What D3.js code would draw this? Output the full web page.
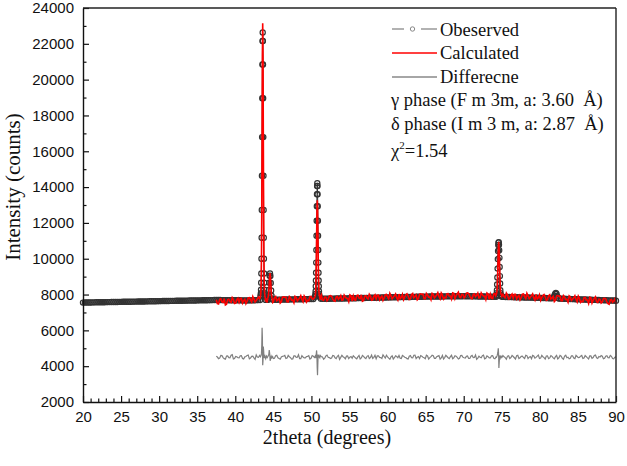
<!DOCTYPE html>
<html><head><meta charset="utf-8">
<script src="https://cdn.jsdelivr.net/npm/d3@7"></script>
<style>
html,body{margin:0;padding:0;background:#fff;}
svg{display:block;}
</style></head>
<body>
<script>
// ---------- DATA ----------
const xTicks = [20,25,30,35,40,45,50,55,60,65,70,75,80,85,90];
const yTicks = [2000,4000,6000,8000,10000,12000,14000,16000,18000,20000,22000,24000];

// Observed: background grid (start 20, step 0.25)
const obsStart = 20, obsStep = 0.25;
const obsBase = [
 7550,7553,7555,7557, 7558,7561,7564,7566, 7567,7569,7570,7573, 7576,7577,7578,7581, 7584,7585,7587,7589,
 7591,7594,7596,7597, 7599,7601,7603,7605, 7607,7610,7612,7613, 7615,7618,7620,7622, 7624,7625,7627,7630,
 7632,7634,7636,7638, 7640,7642,7644,7646, 7648,7650,7652,7655, 7657,7658,7660,7663, 7665,7666,7668,7671,
 7673,7675,7677,7679, 7681,7684,7686,7688, 7690,7693,7696,7694, 7692,7690,7688,7687, 7686,7684,7682,7681,
 7680,7679,7678,7675, 7672,7672,7672,7674, 7676,7680,7684,7687, 7690,7692,7695,7697, 7700,7702,7705,7707,
 7710,7711,7713,7716, 7718,7720,7722,7724, 7726,7729,7731,7733, 7735,7737,7739,7741, 7743,7745,7746,7748,
 7750,7752,7754,7756, 7758,7760,7762,7764, 7766,7768,7770,7772, 7774,7776,7778,7780, 7782,7784,7786,7788,
 7790,7792,7795,7797, 7800,7802,7805,7807, 7810,7812,7815,7817, 7820,7822,7825,7827, 7830,7832,7835,7837,
 7840,7842,7845,7847, 7849,7852,7854,7856, 7858,7861,7863,7865, 7867,7870,7872,7874, 7876,7879,7881,7883,
 7885,7886,7888,7889, 7890,7892,7893,7894, 7895,7897,7898,7899, 7900,7902,7903,7904, 7905,7907,7908,7909,
 7910,7908,7906,7904, 7902,7900,7898,7896, 7894,7892,7890,7888, 7886,7884,7882,7880, 7878,7876,7874,7872,
 7870,7868,7865,7862, 7859,7857,7854,7851, 7848,7846,7843,7840, 7837,7835,7832,7829, 7826,7824,7821,7818,
 7815,7811,7808,7804, 7799,7795,7792,7787, 7783,7779,7776,7771, 7767,7763,7760,7755, 7751,7747,7744,7739,
 7735,7731,7728,7724, 7720,7716,7713,7709, 7705,7701,7698,7694, 7690,7686,7683,7679, 7675,7671,7668,7664,
 7660];
// Observed: peak regions
const obsP1X = [43.32,43.34,43.36,43.38,43.40,43.42,43.44,43.46,43.48,43.50,43.52,43.54,43.56,43.58,43.60,43.62,43.64,43.66,43.68,43.70,43.72,43.74,43.76,43.78,43.80,43.82,43.84,43.86,43.88];
const obsP1Y = [7890,7960,8070,8270,8662,9182,9999,11173,12718,14635,16790,18960,20847,22154,22630,22154,20847,18960,16790,14635,12718,11173,9999,9182,8662,8270,8070,7960,7890];
const obsP2X = [44.26,44.31,44.36,44.41,44.46,44.51,44.56,44.61,44.66,44.71,44.76,44.81,44.86];
const obsP2Y = [7740,7790,7930,8250,8660,9050,9180,9040,8650,8230,7930,7780,7730];
const obsP3X = [50.49,50.51,50.53,50.55,50.57,50.59,50.61,50.63,50.65,50.67,50.69,50.71,50.73,50.75,50.77,50.79,50.81,50.83,50.85,50.87,50.89,50.91,50.93,50.95,50.97,50.99,51.01,51.03,51.05];
const obsP3Y = [7880,7940,8030,8180,8463,8782,9217,9785,10490,11280,12120,12930,13600,14060,14220,14060,13600,12930,12120,11280,10490,9785,9217,8782,8463,8180,8030,7940,7880];
const obsP4X = [74.27,74.30,74.33,74.36,74.39,74.42,74.45,74.48,74.51,74.54,74.57,74.60,74.63,74.66,74.69,74.72,74.75,74.78,74.81,74.84,74.87,74.90];
const obsP4Y = [7930,7980,8080,8240,8560,8950,9450,9980,10430,10760,10900,10920,10780,10480,10050,9540,9030,8620,8240,8080,7980,7930];
const obsP5X = [81.7,81.8,81.9,82.0,82.1,82.2,82.3,82.4];
const obsP5Y = [7800,7840,7930,8040,8090,8030,7900,7810];

// Calculated: grid values (start 37.5, step 0.3) and in-between values (start 37.65, step 0.3)
const calcStart = 37.5, calcMidStart = 37.65, calcStep = 0.3;
const calcBase = [
 7704,7470,7764,7562,7424,7718,7612,7826,7496,7710,
 7572,7784,7660,7488,7812,7688,7884,7584,7764,7640,
 7852,7663,7538,7814,7737,7596,7888,7715,7526,7850,
 7836,7599,7889,7684,7543,7833,7724,7935,7601,7812,
 7672,7882,7757,7583,7906,7780,7975,7673,7852,7726,
 7937,7748,7623,7898,7821,7680,7971,7798,7609,7932,
 7919,7682,7973,7768,7627,7918,7809,8020,7687,7898,
 7757,7968,7843,7670,7993,7868,8063,7762,7941,7816,
 8027,7838,7713,7988,7911,7770,8061,7888,7699,8022,
 8009,7771,8061,7855,7713,8003,7893,8103,7769,7979,
 7837,8047,7920,7746,8068,7941,8135,7833,8010,7884,
 8090,7896,7765,8035,7952,7806,8091,7913,7718,8036,
 8017,7775,8061,7851,7705,7991,7877,8083,7745,7951,
 7804,8009,7878,7699,8016,7885,8074,7767,7940,7809,
 8012,7814,7680,7946,7860,7710,7992,7810,7612,7926,
 7904,7657,7938,7723,7572,7853,7734,7935,7592,7793,
 7624,7825,7690,7506,7819,7684,7868,7557,7726,7590,
 7792,7593,7458,7723,7636,7485];
const calcMid = [
 7490,7736,7592,7778,7464,7740,7566,7722,7518,7794,
 7780,7524,7738,7622,7826,7580,7744,7668,7862,7516,
 7590,7833,7686,7870,7553,7826,7650,7803,7596,7870,
 7852,7595,7807,7690,7893,7645,7808,7731,7923,7576,
 7650,7892,7745,7927,7610,7882,7705,7857,7650,7922,
 7905,7648,7861,7744,7947,7700,7863,7786,7979,7632,
 7705,7948,7801,7984,7667,7940,7763,7916,7709,7982,
 7965,7708,7921,7804,8007,7760,7923,7846,8039,7692,
 7765,8008,7861,8044,7727,8000,7823,7976,7769,8042,
 8025,7767,7979,7861,8063,7815,7977,7899,8091,7743,
 7815,8057,7908,8090,7772,8043,7865,8017,7808,8080,
 8058,7796,8003,7881,8078,7826,7983,7901,8088,7736,
 7803,8041,7889,8067,7745,8013,7831,7979,7767,8035,
 8012,7749,7956,7833,8030,7777,7934,7851,8038,7685,
 7750,7984,7828,8002,7676,7940,7754,7898,7682,7946,
 7920,7653,7856,7729,7922,7665,7818,7731,7914,7557,
 7602,7835,7678,7850,7523,7786,7598,7741,7524,7786,
 7760,7493,7696,7569,7762];
const calcP1X = [43.20,43.28,43.32,43.36,43.40,43.44,43.48,43.52,43.56,43.60,43.64,43.68,43.72,43.76,43.80,43.84,43.88,43.92,44.00,44.08,44.16,44.26,44.31,44.36,44.41,44.46,44.51,44.56,44.61,44.66,44.71,44.76,44.81,44.86,44.92];
const calcP1Y = [7760,7820,7940,8125,8665,10050,12870,17090,21300,23150,21300,17090,12870,10050,8665,8125,7940,7860,7600,7780,7550,7795,7842,7972,8241,8641,9033,9200,9033,8641,8241,7972,7842,7740,7560];
const calcP2X = [50.40,50.45,50.49,50.53,50.57,50.61,50.65,50.69,50.73,50.77,50.81,50.85,50.89,50.93,50.97,51.01,51.05,51.09,51.15,51.20];
const calcP2Y = [7830,7871,7914,8040,8346,8991,10078,11472,12740,13270,12740,11472,10078,8991,8346,8040,7914,7871,7700,7850];
const calcP3X = [74.20,74.25,74.30,74.35,74.40,74.45,74.50,74.55,74.60,74.65,74.70,74.75,74.80,74.85,74.90,74.95,75.00];
const calcP3Y = [7930,7981,8020,8125,8396,8967,9808,10620,10950,10620,9808,8967,8396,8125,8020,7981,7900];

// Difference: grid values (start 37.5, step 0.3) and in-between values (start 37.65)
const diffBase = [
 4550,4420,4600,4480,4390,4570,4470,4640,4430,4530,
 4460,4590,4400,4540,4620,4450,4560,4380,4510,4600,
 4480,4560,4410,4620,4500,4430,4580,4470,4390,4550,
 4600,4450,4530,4400,4570,4490,4640,4420,4510,4460,
 4550,4400,4590,4480,4620,4440,4530,4390,4570,4500,
 4430,4600,4470,4550,4380,4610,4490,4560,4420,4540,
 4580,4450,4520,4400,4600,4470,4550,4430,4620,4490,
 4410,4570,4480,4630,4450,4520,4390,4580,4470,4540,
 4600,4430,4560,4480,4400,4590,4460,4620,4500,4420,
 4550,4470,4610,4400,4530,4580,4440,4560,4390,4600,
 4480,4540,4420,4610,4470,4550,4400,4590,4500,4450,
 4570,4430,4600,4490,4380,4560,4470,4620,4440,4530,
 4460,4590,4410,4550,4600,4440,4520,4390,4580,4480,
 4540,4400,4610,4470,4560,4430,4590,4500,4420,4570,
 4490,4620,4450,4530,4400,4580,4460,4550,4410,4600,
 4470,4560,4390,4610,4500,4440,4580,4420,4540,4490,
 4600,4450,4530,4400,4570,4480,4620,4430,4510,4560,
 4440,4580,4470,4550,4410,4520];
const diffMid = [
 4510,4450,4590,4420,4560,4480,4610,4400,4540,4470,
 4580,4430,4520,4600,4410,4550,4460,4630,4490,4420,
 4470,4560,4400,4590,4500,4440,4610,4430,4520,4570,
 4430,4600,4480,4410,4570,4500,4420,4590,4460,4540,
 4590,4440,4550,4470,4400,4600,4510,4450,4620,4480,
 4460,4580,4420,4610,4490,4530,4410,4570,4500,4440,
 4520,4410,4600,4460,4550,4420,4590,4480,4430,4610,
 4570,4490,4430,4540,4610,4450,4520,4400,4580,4470,
 4440,4600,4500,4420,4560,4470,4610,4430,4540,4590,
 4500,4420,4570,4480,4610,4440,4530,4590,4460,4400,
 4610,4470,4530,4420,4580,4490,4440,4600,4470,4550,
 4430,4560,4480,4620,4450,4500,4590,4410,4570,4460,
 4580,4440,4520,4460,4410,4590,4480,4560,4430,4600,
 4470,4590,4430,4550,4480,4610,4420,4540,4600,4450,
 4560,4430,4600,4480,4570,4420,4590,4460,4530,4410,
 4600,4440,4560,4470,4410,4580,4450,4600,4480,4560,
 4430,4590,4460,4570,4440,4600,4470,4540,4590,4420,
 4560,4480,4600,4430,4500];
const diffP1X = [43.30,43.38,43.44,43.48,43.52,43.56,43.60,43.64,43.68,43.72,43.76,43.82,43.90,44.00,44.10,44.20,44.30,44.40,44.46,44.52,44.58,44.64,44.72,44.80,44.90];
const diffP1Y = [4530,4600,4700,5200,6150,5600,4050,4300,5100,4900,4600,4450,4560,4420,4560,4480,4550,4650,4900,4700,4300,4420,4560,4470,4540];
const diffP2X = [50.50,50.58,50.64,50.68,50.72,50.76,50.80,50.84,50.88,50.94,51.00,51.10];
const diffP2Y = [4560,4450,4700,4880,4600,3900,3500,4100,4650,4480,4550,4470];
const diffP3X = [74.30,74.40,74.48,74.54,74.58,74.62,74.66,74.72,74.80,74.90,75.00];
const diffP3Y = [4500,4600,4750,5000,4700,3900,4200,4600,4450,4560,4480];

const legendLabels = ["Obeserved","Calculated","Differecne"];
const infoLines = ["γ phase (F m 3m, a: 3.60  Å)","δ phase (I m 3 m, a: 2.87  Å)"];
const chiLabel = {sym:"χ", sup:"2", val:"=1.54"};

// ---------- BUILD SERIES ----------
function build(grids, step, wins){
  const pts = [];
  grids.forEach(([start, base]) => base.forEach((v,i)=>{
    const xv = +(start + i*step).toFixed(4);
    const inside = wins.some(([xs]) => xv >= xs[0]-1e-6 && xv <= xs[xs.length-1]+1e-6);
    if(!inside) pts.push([xv, v]);
  }));
  wins.forEach(([xs,ys]) => xs.forEach((xv,i)=>pts.push([xv, ys[i]])));
  pts.sort((a,b)=>a[0]-b[0]);
  return pts;
}
const observed = build([[obsStart, obsBase]], obsStep, [[obsP1X,obsP1Y],[obsP2X,obsP2Y],[obsP3X,obsP3Y],[obsP4X,obsP4Y],[obsP5X,obsP5Y]]);
const calculated = build([[calcStart, calcBase],[calcMidStart, calcMid]], calcStep, [[calcP1X,calcP1Y],[calcP2X,calcP2Y],[calcP3X,calcP3Y]]);
const difference = build([[calcStart, diffBase],[calcMidStart, diffMid]], calcStep, [[diffP1X,diffP1Y],[diffP2X,diffP2Y],[diffP3X,diffP3Y]]);

// ---------- DRAW ----------
const W = 627, H = 466;
const L = 83, R = 616, T = 8, B = 402;
const svg = d3.select("body").append("svg").attr("width", W).attr("height", H);
const x = d3.scaleLinear().domain([20,90]).range([L,R]);
const y = d3.scaleLinear().domain([2000,24000]).range([B,T]);

const line = d3.line().x(d=>x(d[0])).y(d=>y(d[1]));

// Observed line + circles
svg.append("path").datum(observed).attr("d", line)
  .attr("fill","none").attr("stroke","#333").attr("stroke-width",1);
svg.append("g").selectAll("circle").data(observed).join("circle")
  .attr("cx", d=>x(d[0])).attr("cy", d=>y(d[1])).attr("r", 2.6)
  .attr("fill","none").attr("stroke","#333").attr("stroke-width",1.2);

// Calculated
svg.append("path").datum(calculated).attr("d", line)
  .attr("fill","none").attr("stroke","#ff0000").attr("stroke-width",1.6);

// Difference
svg.append("path").datum(difference).attr("d", line)
  .attr("fill","none").attr("stroke","#808080").attr("stroke-width",1.2);

// Axes
const fontSans = "'Liberation Sans', Arial, sans-serif";
const fontSerif = "'Liberation Serif', 'Times New Roman', serif";

const xMinor = d3.range(20,91,1).filter(v=>!xTicks.includes(v));
const yMinor = d3.range(3000,24000,2000);

const gx = svg.append("g").attr("transform",`translate(0,${B})`)
  .call(d3.axisBottom(x).tickValues(xTicks).tickSizeInner(-6).tickSizeOuter(0).tickPadding(9).tickFormat(d3.format("d")));
const gxm = svg.append("g").attr("transform",`translate(0,${B})`)
  .call(d3.axisBottom(x).tickValues(xMinor).tickSizeInner(-3.5).tickSizeOuter(0).tickFormat(""));
gxm.select(".domain").remove();

const gy = svg.append("g").attr("transform",`translate(${L},0)`)
  .call(d3.axisLeft(y).tickValues(yTicks).tickSizeInner(-6).tickSizeOuter(0).tickPadding(9).tickFormat(d3.format("d")));
const gym = svg.append("g").attr("transform",`translate(${L},0)`)
  .call(d3.axisLeft(y).tickValues(yMinor).tickSizeInner(-3.5).tickSizeOuter(0).tickFormat(""));
gym.select(".domain").remove();

[gx,gy,gxm,gym].forEach(g=>{
  g.selectAll("line").attr("stroke","#111").attr("stroke-width",1.2);
  g.selectAll(".domain").attr("stroke","#111").attr("stroke-width",1.4);
  g.selectAll("text").attr("font-family",fontSans).attr("font-size",15).attr("fill","#111");
});

// top & right frame
svg.append("line").attr("x1",L).attr("x2",R).attr("y1",T).attr("y2",T).attr("stroke","#222").attr("stroke-width",1.4);
svg.append("line").attr("x1",R).attr("x2",R).attr("y1",T).attr("y2",B).attr("stroke","#222").attr("stroke-width",1.4);

// Axis titles
svg.append("text").attr("x",327).attr("y",444).attr("text-anchor","middle")
  .attr("font-family",fontSerif).attr("font-size",20).attr("fill","#111").text("2theta (degrees)");
svg.append("text").attr("transform","translate(20,187) rotate(-90)").attr("text-anchor","middle")
  .attr("font-family",fontSerif).attr("font-size",21).attr("fill","#111").text("Intensity (counts)");

// Legend
const lg = svg.append("g");
const rowsY = [29,53,77];
const txtBase = [36,59,83];
lg.append("line").attr("x1",392).attr("x2",404).attr("y1",rowsY[0]).attr("y2",rowsY[0]).attr("stroke","#888").attr("stroke-width",1.3);
lg.append("line").attr("x1",421).attr("x2",437).attr("y1",rowsY[0]).attr("y2",rowsY[0]).attr("stroke","#888").attr("stroke-width",1.3);
lg.append("circle").attr("cx",412.5).attr("cy",rowsY[0]).attr("r",2.2).attr("fill","#fff").attr("stroke","#888").attr("stroke-width",1);
lg.append("line").attr("x1",392).attr("x2",437).attr("y1",rowsY[1]).attr("y2",rowsY[1]).attr("stroke","#ff0000").attr("stroke-width",1.5);
lg.append("line").attr("x1",392).attr("x2",437).attr("y1",rowsY[2]).attr("y2",rowsY[2]).attr("stroke","#888").attr("stroke-width",1.3);
legendLabels.forEach((t,i)=>{
  lg.append("text").attr("x",440).attr("y",txtBase[i]).attr("font-family",fontSerif).attr("font-size",18.5).attr("fill","#111").text(t);
});
infoLines.forEach((t,i)=>{
  lg.append("text").attr("x",391).attr("y",[106,130][i]).attr("font-family",fontSerif).attr("font-size",18.5).attr("fill","#111")
    .attr("xml:space","preserve").style("white-space","pre").text(t);
});
const chi = lg.append("text").attr("x",391).attr("y",157).attr("font-family",fontSerif).attr("font-size",18.5).attr("fill","#111");
chi.append("tspan").text(chiLabel.sym);
chi.append("tspan").attr("font-size",11).attr("dy",-8).text(chiLabel.sup);
chi.append("tspan").attr("dy",8).text(chiLabel.val);
</script>
</body></html>
